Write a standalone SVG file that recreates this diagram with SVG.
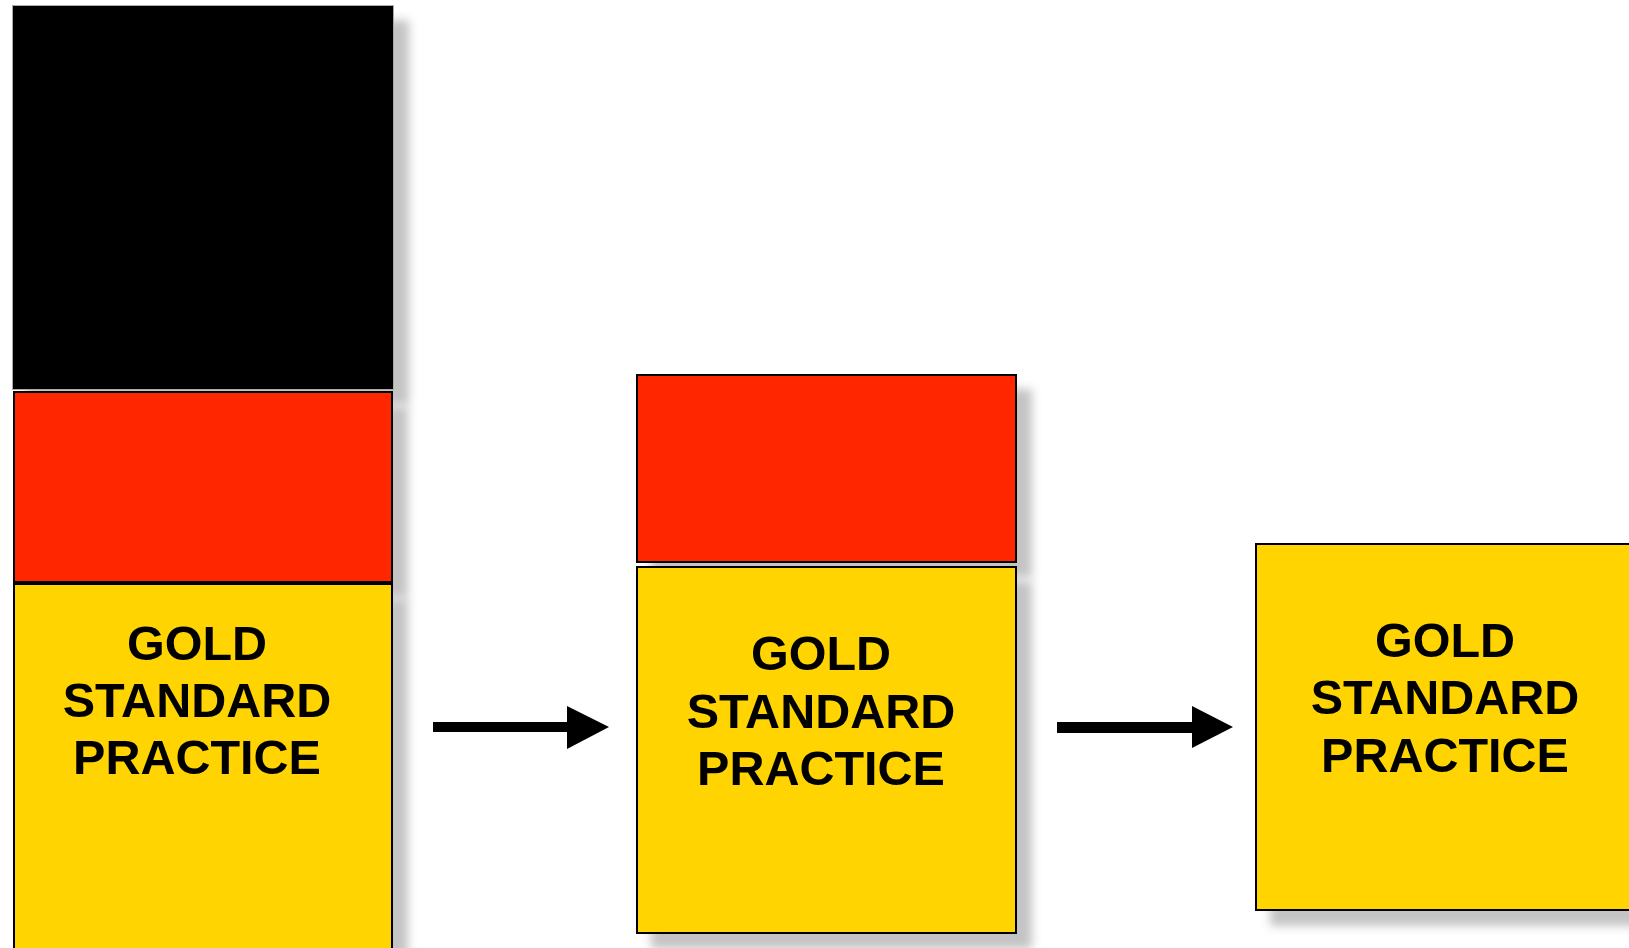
<svg xmlns="http://www.w3.org/2000/svg" width="1629" height="948" viewBox="0 0 1629 948">
<style>
.red{fill:#FF2800;stroke:#000;stroke-width:2}
.gold{fill:#FFD400;stroke:#000;stroke-width:2}
.blk{fill:#000;stroke:#aaa;stroke-width:1}
.lbl{font-family:"Liberation Sans",Arial,sans-serif;font-weight:bold;font-size:48.5px;fill:#000;text-anchor:middle}
</style>
<defs>
<filter id="sh" x="-10%" y="-10%" width="130%" height="130%">
<feGaussianBlur in="SourceAlpha" stdDeviation="5"/>
<feOffset dx="15" dy="15" result="b"/>
<feFlood flood-color="#c4c4c4"/>
<feComposite in2="b" operator="in"/>
<feMerge><feMergeNode/><feMergeNode in="SourceGraphic"/></feMerge>
</filter>
</defs>
<rect width="1629" height="948" fill="#fff"/>
<g id="col1">
<g id="col1-black"><rect class="blk" x="12.5" y="5.5" width="381" height="384" filter="url(#sh)"/></g>
<g id="col1-red"><rect class="red" x="14" y="392" width="378" height="190" filter="url(#sh)"/></g>
<g id="col1-gold"><rect class="gold" x="14" y="584" width="378" height="380" filter="url(#sh)"/>
<text class="lbl"><tspan x="197" y="660">GOLD</tspan><tspan x="197" y="717">STANDARD</tspan><tspan x="197" y="774">PRACTICE</tspan></text></g>
</g>
<g id="col2">
<g id="col2-red"><rect class="red" x="637" y="375" width="379" height="187" filter="url(#sh)"/></g>
<g id="col2-gold"><rect class="gold" x="637" y="567" width="379" height="366" filter="url(#sh)"/>
<text class="lbl"><tspan x="821" y="670">GOLD</tspan><tspan x="821" y="728">STANDARD</tspan><tspan x="821" y="785">PRACTICE</tspan></text></g>
</g>
<g id="col3">
<g id="col3-gold"><rect class="gold" x="1256" y="544" width="400" height="366" filter="url(#sh)"/>
<text class="lbl"><tspan x="1445" y="657">GOLD</tspan><tspan x="1445" y="714">STANDARD</tspan><tspan x="1445" y="772">PRACTICE</tspan></text></g>
</g>
<g id="connectors" fill="#000">
<path d="M433 722 H567 V706 L609 727 L567 749 V732 H433 Z"/>
<path d="M1057 722 H1192 V706 L1233 727 L1192 748 V733 H1057 Z"/>
</g>
</svg>
